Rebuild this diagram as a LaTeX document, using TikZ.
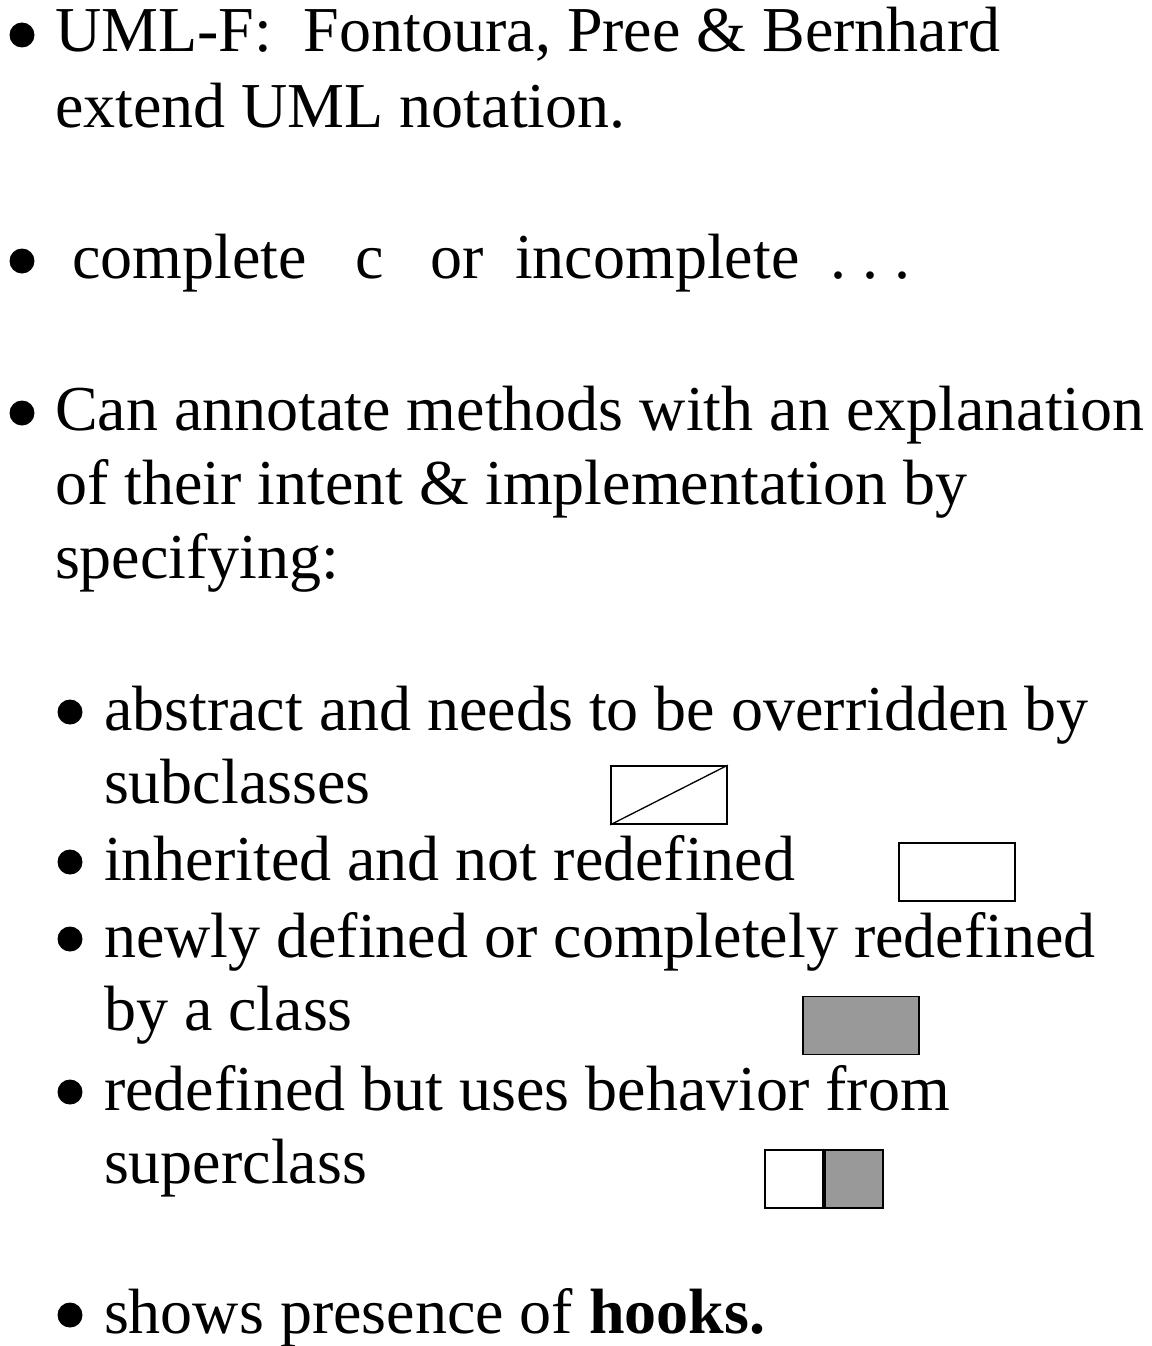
\documentclass[tikz,border=0pt]{standalone}
\usepackage{fontspec}
\setmainfont{Liberation Serif}
\definecolor{fillgray}{HTML}{999999}
\tikzset{
  txt/.style={anchor=base west, inner sep=0pt, outer sep=0pt,
    font=\fontsize{64}{75}\selectfont},
  dot/.style={circle, fill=black, inner sep=0pt, minimum size=25pt},
  glyphbox/.style={draw=black, line width=1.8pt, inner sep=0pt,
    minimum width=116pt, minimum height=58pt},
  halfbox/.style={draw=black, line width=1.8pt, inner sep=0pt,
    minimum width=58pt, minimum height=58pt}
}
\begin{document}
\begin{tikzpicture}[x=1pt, y=-1pt]
\useasboundingbox[fill=white] (0,0) rectangle (1151,1346);

% first bullet
\node[dot] (b1) at (22,35) {};
\node[txt] (l1a) at (55,52) {UML-F:\ \ Fontoura, Pree \& Bernhard};
\node[txt] (l1b) at (55,127) {extend UML notation.};

% second bullet
\node[dot] (b2) at (22,261) {};
\node[txt] (l2a) at (72,278) {complete};
\node[txt] (l2b) at (355,278) {c};
\node[txt] (l2c) at (430,278) {or};
\node[txt] (l2d) at (515,278) {incomplete};
\node[txt] (l2e) at (830,278) {.\ .\ .};

% third bullet
\node[dot] (b3) at (22,413) {};
\node[txt] (l3a) at (55,430) {Can annotate methods with an explanation};
\node[txt] (l3b) at (55,504) {of their intent \& implementation by};
\node[txt] (l3c) at (55,578) {specifying:};

% sub-bullets
\node[dot] (s1) at (70,712) {};
\node[txt] (s1a) at (104,730) {abstract and needs to be overridden by};
\node[txt] (s1b) at (104,803) {subclasses};
\node[dot] (s2) at (70,862) {};
\node[txt] (s2a) at (104,880) {inherited and not redefined};
\node[dot] (s3) at (70,939) {};
\node[txt] (s3a) at (104,957) {newly defined or completely redefined};
\node[txt] (s3b) at (104,1030) {by a class};
\node[dot] (s4) at (70,1092) {};
\node[txt] (s4a) at (104,1110) {redefined but uses behavior from};
\node[txt] (s4b) at (104,1183) {superclass};

% method markers
\node[glyphbox] (abs) at (669,795) {};
\draw[line width=1.3pt] (abs.south west) -- (abs.north east);
\node[glyphbox] (inh) at (957,872) {};
\node[glyphbox, fill=fillgray] (new) at (861,1025.5) {};
\node[halfbox] (redl) at (794,1179) {};
\node[halfbox, fill=fillgray, anchor=west] (redr) at (redl.east) {};

% last bullet
\node[dot] (b5) at (70,1315) {};
\node[txt] (l5a) at (104,1333) {shows presence of \textbf{hooks.}};
\end{tikzpicture}
\end{document}
